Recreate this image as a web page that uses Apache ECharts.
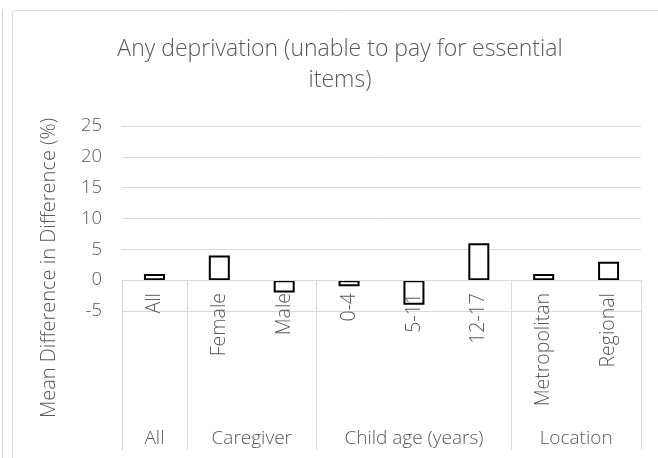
<!DOCTYPE html>
<html>
<head>
<meta charset="utf-8">
<script src="https://cdn.jsdelivr.net/npm/echarts@6/dist/echarts.min.js"></script>
<style>
  html, body { margin: 0; padding: 0; background: #fff; }
  #chart { width: 658px; height: 458px; }
</style>
</head>
<body>
<div id="chart"></div>
<script>
  // categories and values
  var categories = ['All', 'Female', 'Male', '0-4', '5-11', '12-17', 'Metropolitan', 'Regional'];
  var values = [1, 4, -2, -1, -4, 6, 1, 3];
  var groupNames = ['All', 'Caregiver', 'Child age (years)', 'Location'];
  var groupSizes = [1, 2, 3, 2];
  var yTicks = [-5, 0, 5, 10, 15, 20, 25];

  // group boundaries / centres on a 0..n scale
  var bounds = [0], centres = [];
  groupSizes.forEach(function (s, i) {
    var start = bounds[i];
    bounds.push(start + s);
    centres.push(start + s / 2);
  });

  var font = 'Open Sans';
  var grey = '#595959';
  var lineGrey = '#d9d9d9';

  var chart = echarts.init(document.getElementById('chart'));
  var option = {
    animation: false,
    backgroundColor: '#fff',
    title: {
      text: 'Any deprivation (unable to pay for essential\nitems)',
      left: 340,
      top: 34,
      textAlign: 'center',
      padding: 0,
      textStyle: {
        fontFamily: font,
        fontWeight: 300,
        fontSize: 23,
        lineHeight: 31,
        color: grey
      }
    },
    graphic: [
      { type: 'line', shape: { x1: 2.5, y1: 9, x2: 2.5, y2: 470 }, style: { stroke: lineGrey, lineWidth: 1 } },
      { type: 'rect', shape: { x: 12.5, y: 10.5, width: 700, height: 500, r: 3 }, style: { fill: 'none', stroke: lineGrey, lineWidth: 1 } },
      {
        type: 'text', x: 49, y: 268, rotation: Math.PI / 2,
        style: {
          text: 'Mean Difference in Difference (%)',
          fontFamily: font, fontWeight: 300, fontSize: 20, fill: grey,
          align: 'center', verticalAlign: 'middle'
        }
      }
    ],
    grid: { left: 122, right: 17, top: 126, bottom: 147, outerBoundsMode: 'none' },
    xAxis: [
      {
        type: 'category',
        position: 'bottom',
        data: categories,
        z: 5,
        axisLine: { onZero: true, onZeroAxisIndex: 0, lineStyle: { color: lineGrey, width: 1 } },
        axisTick: { show: false },
        axisLabel: {
          // labels are laid out from the grid edge, pull them up to the zero line
          interval: 0, rotate: 90, margin: -18,
          fontFamily: font, fontWeight: 300, fontSize: 19.5, color: grey
        }
      },
      {
        type: 'value',
        position: 'bottom',
        min: 0,
        max: categories.length,
        z: 5,
        splitLine: { show: false },
        axisLine: { show: false, onZero: true, onZeroAxisIndex: 0 },
        axisTick: {
          show: true, customValues: bounds, length: 170,
          lineStyle: { color: lineGrey, width: 1 }
        },
        axisLabel: {
          customValues: centres, margin: 118,
          fontFamily: font, fontWeight: 300, fontSize: 19, color: grey,
          formatter: function (v) {
            var i = centres.indexOf(v);
            return i >= 0 ? groupNames[i] : '';
          }
        }
      }
    ],
    yAxis: {
      type: 'value',
      min: yTicks[0],
      max: yTicks[yTicks.length - 1],
      interval: 5,
      axisLine: { show: false, onZero: false },
      axisTick: { show: false },
      splitLine: { lineStyle: { color: lineGrey, width: 1 } },
      axisLabel: {
        margin: 20,
        fontFamily: font, fontWeight: 300, fontSize: 18.5, color: grey
      }
    },
    series: [{
      type: 'bar',
      xAxisIndex: 0,
      data: values,
      barWidth: 21,
      itemStyle: { color: '#fff', borderColor: '#000', borderWidth: 2 }
    }]
  };
  chart.setOption(option);
</script>
</body>
</html>
